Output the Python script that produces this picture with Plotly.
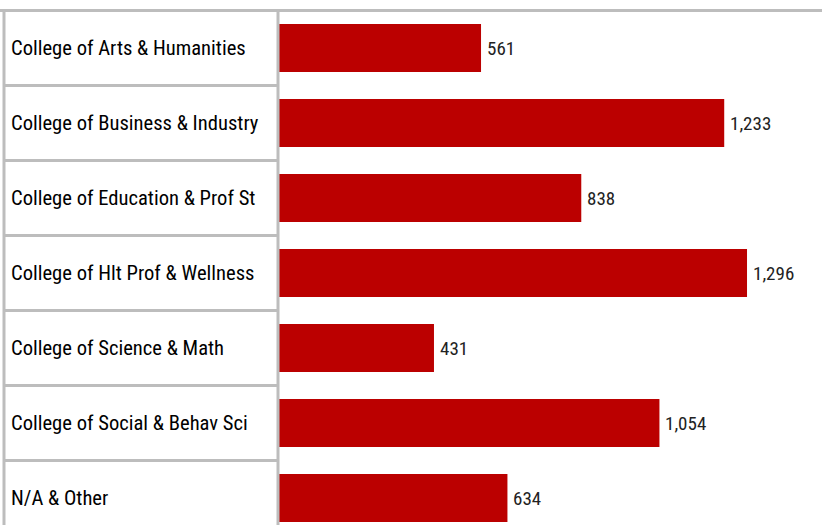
import plotly.graph_objects as go

categories = [
    "College of Arts & Humanities",
    "College of Business & Industry",
    "College of Education & Prof St",
    "College of Hlt Prof & Wellness",
    "College of Science & Math",
    "College of Social & Behav Sci",
    "N/A & Other",
]
values = [561, 1233, 838, 1296, 431, 1054, 634]

W, H = 822, 525
FONT = "Roboto Condensed, Arial Narrow, sans-serif"
BAR = "#BB0000"
LINE = "#BDBDBD"
x0px = 278.0
col_split = x0px / W

fig = go.Figure(
    go.Bar(
        y=categories,
        x=values,
        orientation="h",
        marker=dict(color=BAR, line=dict(width=0)),
        width=0.64,
        hoverinfo="skip",
    )
)

shapes = []
n = len(categories)
# top line across full width
shapes.append(dict(type="line", xref="paper", yref="y", x0=0, x1=1, y0=-0.5, y1=-0.5,
                   line=dict(color=LINE, width=3)))
# row separators in left header column
for i in range(n):
    shapes.append(dict(type="line", xref="paper", yref="y", x0=3 / W, x1=col_split,
                       y0=i + 0.5, y1=i + 0.5, line=dict(color=LINE, width=3)))
# left border and column divider
shapes.append(dict(type="line", xref="paper", yref="y", x0=4 / W, x1=4 / W, y0=-0.5, y1=n,
                   line=dict(color=LINE, width=3)))
shapes.append(dict(type="line", xref="paper", yref="y", x0=col_split, x1=col_split, y0=-0.5, y1=n,
                   line=dict(color=LINE, width=3)))

annotations = [
    dict(xref="paper", yref="y", x=9 / W, y=c, text=c, showarrow=False, xanchor="left",
         yanchor="middle", font=dict(family=FONT, size=20.6, color="#000000"))
    for c in categories
]
annotations += [
    dict(xref="x", yref="y", x=v, y=c, text=f"{v:,}", showarrow=False, xanchor="left",
         yanchor="middle", xshift=4, font=dict(family=FONT, size=19, color="#222222"))
    for c, v in zip(categories, values)
]

top_val = -0.5 - 10.5 / 75.0
fig.update_layout(
    width=W, height=H,
    margin=dict(l=0, r=0, t=0, b=0),
    paper_bgcolor="white", plot_bgcolor="white",
    showlegend=False,
    xaxis=dict(domain=[col_split, 1], range=[0, (W - x0px) / 0.3619], visible=False, fixedrange=True),
    yaxis=dict(range=[top_val + H / 75.0, top_val], visible=False, fixedrange=True,
               categoryorder="array", categoryarray=categories),
    shapes=shapes,
    annotations=annotations,
)

fig.write_html("out.html", config={"displayModeBar": False},
               post_script="document.body.style.margin='0';")
